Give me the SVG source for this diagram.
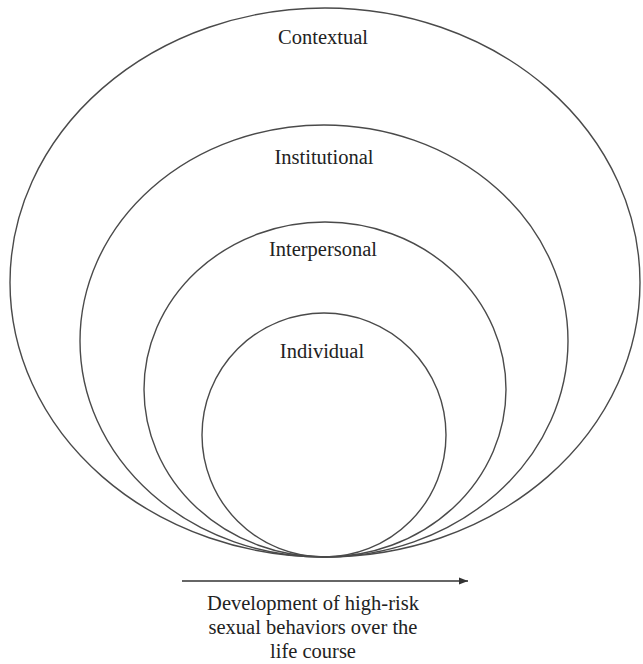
<svg xmlns="http://www.w3.org/2000/svg" width="643" height="664" viewBox="0 0 643 664">
<style>
.ring{fill:none;stroke:#4a4a4a;stroke-width:1.4}
.lbl{font-family:"Liberation Serif","Times New Roman",serif;font-size:20.5px;fill:#222;text-anchor:middle}
</style>
<defs>
<marker id="ah" viewBox="0 0 10 10" refX="10" refY="5" markerWidth="9" markerHeight="9" markerUnits="userSpaceOnUse" orient="auto">
<path d="M0,1 L10,5 L0,9 Z" fill="#333"/>
</marker>
</defs>
<rect width="643" height="664" fill="#fff"/>
<g id="contextual">
<ellipse class="ring" cx="325" cy="282.5" rx="315" ry="274.5"/>
<text class="lbl" x="323" y="44">Contextual</text>
</g>
<g id="institutional">
<ellipse class="ring" cx="324" cy="341" rx="244" ry="216"/>
<text class="lbl" x="324" y="164">Institutional</text>
</g>
<g id="interpersonal">
<ellipse class="ring" cx="325" cy="389.5" rx="181" ry="167.5"/>
<text class="lbl" x="323" y="256">Interpersonal</text>
</g>
<g id="individual">
<ellipse class="ring" cx="324" cy="435" rx="122" ry="122"/>
<text class="lbl" x="322" y="358">Individual</text>
</g>
<g id="connectors">
<line x1="182" y1="581" x2="468" y2="581" stroke="#333" stroke-width="1.3" marker-end="url(#ah)"/>
</g>
<g id="caption">
<text class="lbl" x="313" y="610">Development of high-risk</text>
<text class="lbl" x="313" y="634">sexual behaviors over the</text>
<text class="lbl" x="313" y="658">life course</text>
</g>
</svg>
